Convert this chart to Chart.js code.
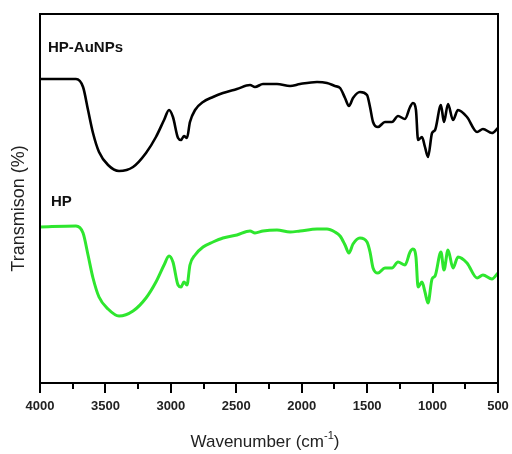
<!DOCTYPE html>
<html>
<head>
<meta charset="utf-8">
<script src="https://cdn.jsdelivr.net/npm/chart.js@4"></script>
<style>
  html, body { margin: 0; padding: 0; background: #fff; }
  #wrap { width: 512px; height: 454px; position: relative; }
</style>
</head>
<body>
<div id="wrap"><canvas id="chartFtir"></canvas></div>
<script>
// FTIR spectra, values (arbitrary transmission units)
const wavenumbers = [4000, 3725, 3671, 3633, 3595, 3549, 3480, 3396, 3289, 3190, 3114, 3052, 3014, 2984,
  2945, 2922, 2900, 2877, 2854, 2815, 2754, 2678, 2602, 2495, 2395, 2357, 2296, 2189, 2089, 2013,
  1883, 1807, 1746, 1707, 1669, 1639, 1608, 1555, 1501, 1478, 1455, 1417, 1364, 1310, 1264, 1211,
  1172, 1150, 1127, 1111, 1081, 1058, 1035, 1004, 981, 936, 913, 882, 844, 806, 737, 660, 615, 546, 500];

const hpAuNPs = [304, 304, 296, 273, 250, 231, 218, 212, 216, 230, 246, 263, 273, 266,
  245, 243, 247, 245, 261, 273, 281, 286, 290, 294, 298, 296, 299, 299, 297, 299,
  301, 300, 297, 295, 285, 277, 285, 291, 288, 276, 261, 256, 261, 261, 267, 264,
  276, 280, 273, 243, 246, 236, 226, 250, 253, 278, 261, 279, 263, 273, 266, 251, 254, 250, 255];

const hp = [156, 157, 150, 128, 105, 86, 74, 67, 72, 85, 101, 118, 127, 121,
  98, 96, 101, 98, 118, 128, 136, 141, 145, 148, 152, 150, 152, 153, 151, 152,
  154, 154, 151, 147, 138, 130, 139, 145, 141, 131, 115, 110, 115, 115, 121, 118,
  131, 134, 126, 96, 101, 91, 80, 104, 107, 131, 113, 133, 115, 126, 120, 105, 108, 104, 110];

const seriesNames = ['HP-AuNPs', 'HP'];
const xTicks = [4000, 3500, 3000, 2500, 2000, 1500, 1000, 500];
const xMinorTicks = [3750, 3250, 2750, 2250, 1750, 1250, 750];

const FONT = '"Liberation Sans", Arial, sans-serif';

function toPoints(values) {
  return wavenumbers.map((w, i) => ({ x: w, y: values[i] }));
}

const framePlugin = {
  id: 'frame',
  afterDraw(chart) {
    const { ctx, chartArea } = chart;
    const xScale = chart.scales.x;
    const yScale = chart.scales.y;
    ctx.save();
    ctx.strokeStyle = '#000';
    ctx.lineWidth = 2;
    ctx.strokeRect(chartArea.left, chartArea.top, chartArea.right - chartArea.left, chartArea.bottom - chartArea.top);

    xTicks.forEach((v) => {
      const px = Math.round(xScale.getPixelForValue(v));
      ctx.beginPath();
      ctx.moveTo(px, chartArea.bottom);
      ctx.lineTo(px, chartArea.bottom + 10);
      ctx.stroke();
    });
    xMinorTicks.forEach((v) => {
      const px = Math.round(xScale.getPixelForValue(v));
      ctx.beginPath();
      ctx.moveTo(px, chartArea.bottom);
      ctx.lineTo(px, chartArea.bottom + 6);
      ctx.stroke();
    });

    // series labels
    ctx.fillStyle = '#111';
    ctx.font = `bold 15px ${FONT}`;
    ctx.textBaseline = 'alphabetic';
    ctx.textAlign = 'left';
    ctx.fillText(seriesNames[0], 48, 52);
    ctx.fillText(seriesNames[1], 51, 206);

    // x title with superscript
    ctx.font = `17px ${FONT}`;
    const part1 = 'Wavenumber (cm';
    const sup = '-1';
    const part2 = ')';
    const w1 = ctx.measureText(part1).width;
    const w3 = ctx.measureText(part2).width;
    ctx.font = `11px ${FONT}`;
    const w2 = ctx.measureText(sup).width;
    const total = w1 + w2 + w3;
    let tx = (chartArea.left + chartArea.right) / 2 - total / 2 - 4;
    const ty = 447;
    ctx.fillStyle = '#222';
    ctx.font = `17px ${FONT}`;
    ctx.fillText(part1, tx, ty);
    tx += w1;
    ctx.font = `11px ${FONT}`;
    ctx.fillText(sup, tx, ty - 8);
    tx += w2;
    ctx.font = `17px ${FONT}`;
    ctx.fillText(part2, tx, ty);

    // y title
    ctx.save();
    ctx.translate(24, (yScale.top + yScale.bottom) / 2 + 10);
    ctx.rotate(-Math.PI / 2);
    ctx.textAlign = 'center';
    ctx.font = `18px ${FONT}`;
    ctx.fillText('Transmison (%)', 0, 0);
    ctx.restore();

    ctx.restore();
  },
};

const chartFtir = new Chart(document.getElementById('chartFtir'), {
  type: 'line',
  data: {
    datasets: [
      {
        label: seriesNames[0],
        data: toPoints(hpAuNPs),
        borderColor: '#000000',
        borderWidth: 2.6,
        pointRadius: 0,
        cubicInterpolationMode: 'monotone',
        fill: false,
      },
      {
        label: seriesNames[1],
        data: toPoints(hp),
        borderColor: '#2ee62e',
        borderWidth: 3,
        pointRadius: 0,
        cubicInterpolationMode: 'monotone',
        fill: false,
      },
    ],
  },
  options: {
    responsive: true,
    maintainAspectRatio: false,
    animation: false,
    layout: { padding: { left: 40, top: 14, right: 14, bottom: 0 } },
    plugins: { legend: { display: false }, tooltip: { enabled: false } },
    scales: {
      x: {
        type: 'linear',
        reverse: true,
        min: 500,
        max: 4000,
        grid: { display: false, drawTicks: true, tickLength: 10 },
        border: { display: false },
        afterFit(scale) {
          scale.height = 71;
          scale.paddingLeft = 0;
          scale.paddingRight = 0;
        },
        ticks: {
          stepSize: 500,
          autoSkip: false,
          maxRotation: 0,
          padding: 6,
          color: '#222',
          font: { family: FONT, size: 13, weight: 'bold' },
          callback: (value) => String(value),
        },
      },
      y: {
        display: false,
        min: 0,
        max: 369,
      },
    },
  },
  plugins: [framePlugin],
});
</script>
</body>
</html>
